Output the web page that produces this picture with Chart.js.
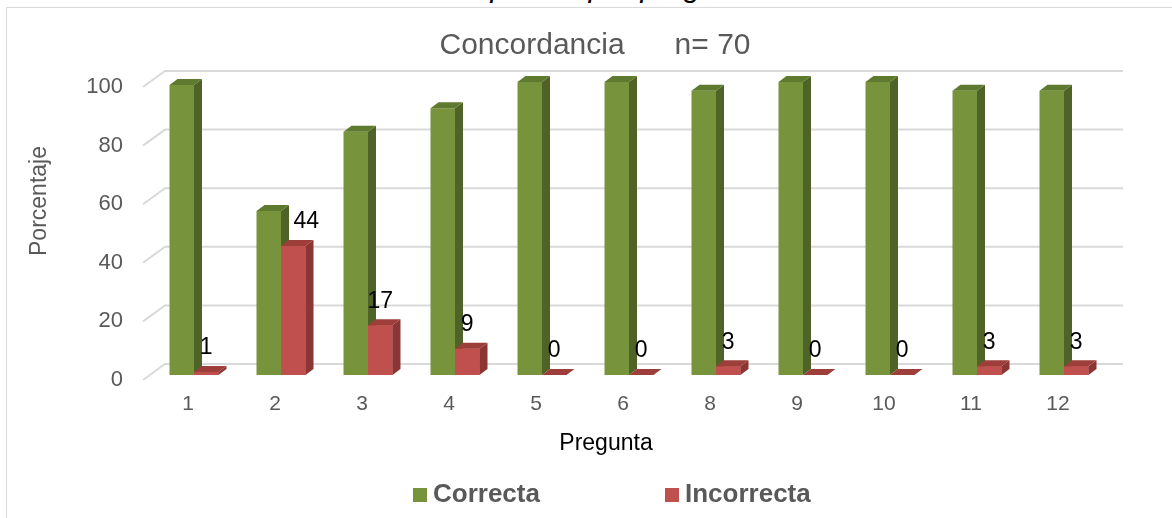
<!DOCTYPE html>
<html>
<head>
<meta charset="utf-8">
<script src="https://cdn.jsdelivr.net/npm/chart.js@4.4.1/dist/chart.umd.min.js"></script>
<style>
  html, body { margin: 0; padding: 0; background: #fff; overflow: hidden; }
  #wrap { position: relative; width: 1172px; height: 518px; overflow: hidden; }
  #cut { position: absolute; top: -28px; left: 0; width: 1196px; text-align: center;
         font: italic 30px 'Liberation Sans', Arial, sans-serif; line-height: 30px; color: #000; }
  #frame { position: absolute; left: 6px; top: 7px; width: 1300px; height: 700px;
           border: 1.5px solid #d9d9d9; box-sizing: border-box; }
  canvas { position: absolute; left: 0; top: 0; }
</style>
</head>
<body>
<div id="wrap">
  <div id="cut">Respuesta por pregunta</div>
  <div id="frame"></div>
  <canvas id="chart" width="1172" height="518"></canvas>
</div>
<script>
// data
const preguntas = ['1', '2', '3', '4', '5', '6', '8', '9', '10', '11', '12'];
const correcta = [99, 56, 83, 91, 100, 100, 97, 100, 100, 97, 97];
const incorrecta = [1, 44, 17, 9, 0, 0, 3, 0, 0, 3, 3];
const yTicks = [0, 20, 40, 60, 80, 100];

const FONT = "'Liberation Sans', Arial, sans-serif";
const GRAY = '#595959';
const DX = 8, DY = 6; // bar depth

const faces = [
  { front: '#77933C', side: '#4F6228', top: '#5E7A2F' },
  { front: '#C0504D', side: '#8B3634', top: '#9D3E3B' }
];

// back wall gridlines with the little diagonal ticks on the left
const backWall = {
  id: 'backWall',
  beforeDatasetsDraw(chart) {
    const { ctx, chartArea, scales } = chart;
    ctx.save();
    ctx.strokeStyle = '#d9d9d9';
    ctx.lineWidth = 2;
    yTicks.forEach(v => {
      const py = scales.y.getPixelForValue(v);
      ctx.beginPath();
      ctx.moveTo(chartArea.left - 7.5, py + 5);
      ctx.lineTo(chartArea.left + 14.5, py - 11);
      ctx.lineTo(chartArea.right + 15.5, py - 11);
      ctx.stroke();
    });
    ctx.restore();
  }
};

function drawFaces(ctx, bar, f, redrawFront) {
  const left = bar.x - bar.width / 2;
  const right = bar.x + bar.width / 2;
  const top = bar.y, base = bar.base;
  if (redrawFront) {
    ctx.fillStyle = f.front;
    ctx.fillRect(left, top, right - left, base - top);
  }
  // side
  ctx.fillStyle = f.side;
  ctx.beginPath();
  ctx.moveTo(right, top);
  ctx.lineTo(right + DX, top - DY);
  ctx.lineTo(right + DX, base - DY);
  ctx.lineTo(right, base);
  ctx.closePath();
  ctx.fill();
  // top
  ctx.fillStyle = f.top;
  ctx.beginPath();
  ctx.moveTo(left, top);
  ctx.lineTo(left + DX, top - DY);
  ctx.lineTo(right + DX, top - DY);
  ctx.lineTo(right, top);
  ctx.closePath();
  ctx.fill();
}

// fake 3d faces + value labels on the red bars
const bars3d = {
  id: 'bars3d',
  afterDatasetsDraw(chart) {
    const ctx = chart.ctx;
    ctx.save();
    chart.getDatasetMeta(0).data.forEach(bar => drawFaces(ctx, bar, faces[0], false));
    chart.getDatasetMeta(1).data.forEach(bar => drawFaces(ctx, bar, faces[1], true));

    ctx.fillStyle = '#000';
    ctx.font = '23px ' + FONT;
    ctx.textAlign = 'center';
    ctx.textBaseline = 'middle';
    const nudge = { 1: 13 }; // the "44" label sits clear of the green bar
    chart.getDatasetMeta(1).data.forEach((bar, i) => {
      ctx.fillText(String(incorrecta[i]), bar.x + (nudge[i] || 0), bar.y - 24);
    });
    ctx.restore();
  }
};

// axis titles and legend
const extras = {
  id: 'extras',
  afterDraw(chart) {
    const ctx = chart.ctx;
    ctx.save();
    ctx.textBaseline = 'middle';

    ctx.fillStyle = '#000';
    ctx.font = '23px ' + FONT;
    ctx.textAlign = 'center';
    ctx.fillText('Pregunta', 606, 444);

    ctx.fillStyle = GRAY;
    ctx.translate(40, 201);
    ctx.rotate(-Math.PI / 2);
    ctx.fillText('Porcentaje', 0, 0);
    ctx.setTransform(1, 0, 0, 1, 0, 0);

    const legendX = [413, 665];
    ctx.font = 'bold 26px ' + FONT;
    ctx.textAlign = 'left';
    chart.data.datasets.forEach((ds, i) => {
      ctx.fillStyle = ds.backgroundColor;
      ctx.fillRect(legendX[i], 488, 14, 14);
      ctx.fillStyle = GRAY;
      ctx.fillText(ds.label, legendX[i] + 20, 495);
    });
    ctx.restore();
  }
};

new Chart(document.getElementById('chart'), {
  type: 'bar',
  data: {
    labels: preguntas,
    datasets: [
      { label: 'Correcta', data: correcta, backgroundColor: faces[0].front,
        categoryPercentage: 0.563, barPercentage: 1 },
      { label: 'Incorrecta', data: incorrecta, backgroundColor: faces[1].front,
        categoryPercentage: 0.563, barPercentage: 1 }
    ]
  },
  options: {
    responsive: false,
    animation: false,
    devicePixelRatio: 1,
    layout: { padding: { left: 82.5, right: 64.5, top: 0, bottom: 0 } },
    plugins: {
      legend: { display: false },
      tooltip: { enabled: false },
      title: {
        display: true,
        text: 'Concordancia      n= 70',
        color: GRAY,
        font: { family: FONT, size: 30, weight: 'normal' },
        padding: { top: 28, bottom: 18 }
      }
    },
    scales: {
      x: {
        grid: { display: false, drawTicks: false },
        border: { display: false },
        ticks: { color: GRAY, font: { family: FONT, size: 21 }, padding: 17, labelOffset: -6,
                 maxRotation: 0, autoSkip: false },
        afterFit(scale) { scale.height = 143; }
      },
      y: {
        min: 0,
        max: 100,
        grid: { display: false, drawTicks: false },
        border: { display: false },
        ticks: { stepSize: 20, color: GRAY, font: { family: FONT, size: 22 }, padding: 27.5, labelOffset: 5 },
        afterFit(scale) { scale.width = 68; }
      }
    }
  },
  plugins: [backWall, bars3d, extras]
});
</script>
</body>
</html>
